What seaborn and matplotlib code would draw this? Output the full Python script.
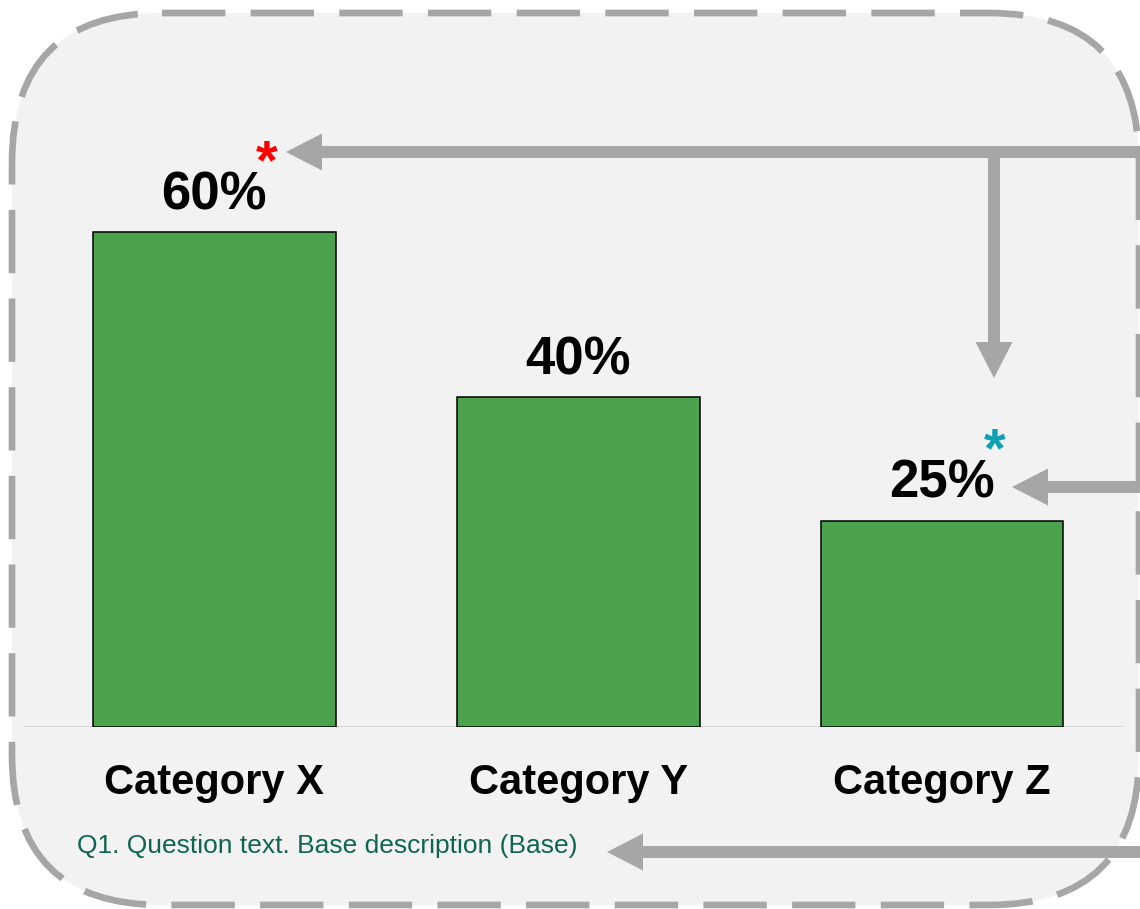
import matplotlib
matplotlib.use("Agg")
import matplotlib.pyplot as plt
from matplotlib.patches import FancyBboxPatch, FancyArrow
import seaborn as sns

# Chart data
categories = ["Category X", "Category Y", "Category Z"]
values = [60, 40, 25]
value_labels = ["60%", "40%", "25%"]
footnote = "Q1. Question text. Base description (Base)"

# Significance markers: (category index, colour)
markers = [(0, "#ff0000"), (2, "#0fa0b4")]

sns.set_theme(style="white")
plt.rcParams["font.family"] = ["Liberation Sans", "DejaVu Sans"]

W, H = 1140, 909
fig = plt.figure(figsize=(W / 100, H / 100), dpi=100)
fig.patch.set_facecolor("white")

# Background layer in pixel units (origin at top-left)
bg = fig.add_axes([0, 0, 1, 1], zorder=0)
bg.set_xlim(0, W)
bg.set_ylim(H, 0)
bg.axis("off")

panel = FancyBboxPatch((12, 13), 1127, 892,
                       boxstyle="round,pad=0,rounding_size=150",
                       facecolor="#f2f2f2", edgecolor="#a6a6a6",
                       linewidth=4.8, linestyle=(0, (9.5, 3.8)),
                       mutation_aspect=1)
bg.add_patch(panel)

arrow_kw = dict(width=12, head_width=37, head_length=36,
                length_includes_head=True, color="#a6a6a6", lw=0)
# connector arrows
bg.add_patch(FancyArrow(1145, 152, 286 - 1145, 0, **arrow_kw))
bg.add_patch(FancyArrow(994, 146, 0, 378 - 146, **arrow_kw))
bg.add_patch(FancyArrow(1145, 487, 1012 - 1145, 0, **arrow_kw))
bg.add_patch(FancyArrow(1145, 852, 607 - 1145, 0, **arrow_kw))

bg.text(77, 846, footnote, fontsize=19, color="#0e6652",
        ha="left", va="center")

# Main bar chart
ax = fig.add_axes([24 / W, (H - 727) / H, 1100 / W, 627 / H], zorder=1)
ax.patch.set_alpha(0)
sns.barplot(x=categories, y=values, color="#4ba34d", saturation=1,
            edgecolor="black", linewidth=1.1, width=0.667, ax=ax)
ax.set_xlim(-0.523, 2.5)
ax.set_ylim(0, 76)
for s in ax.spines.values():
    s.set_visible(False)
ax.axhline(0, color="#d9d9d9", lw=1.5, zorder=0.5)
ax.set_yticks([])
ax.set_xlabel("")
ax.set_ylabel("")
ax.tick_params(axis="x", length=0, pad=26, labelsize=30)
for lbl in ax.get_xticklabels():
    lbl.set_fontweight("bold")
    lbl.set_color("black")

for i, (v, txt) in enumerate(zip(values, value_labels)):
    ax.annotate(txt, (i, v), xytext=(0, 16.5), textcoords="offset points",
                ha="center", va="baseline", fontsize=38, fontweight="bold",
                color="black")

for i, col in markers:
    ax.annotate("*", (i, values[i]), xytext=(38, 39), textcoords="offset points",
                ha="center", va="baseline", fontsize=40, fontweight="bold",
                color=col)

fig.savefig("out.png", dpi=100)
